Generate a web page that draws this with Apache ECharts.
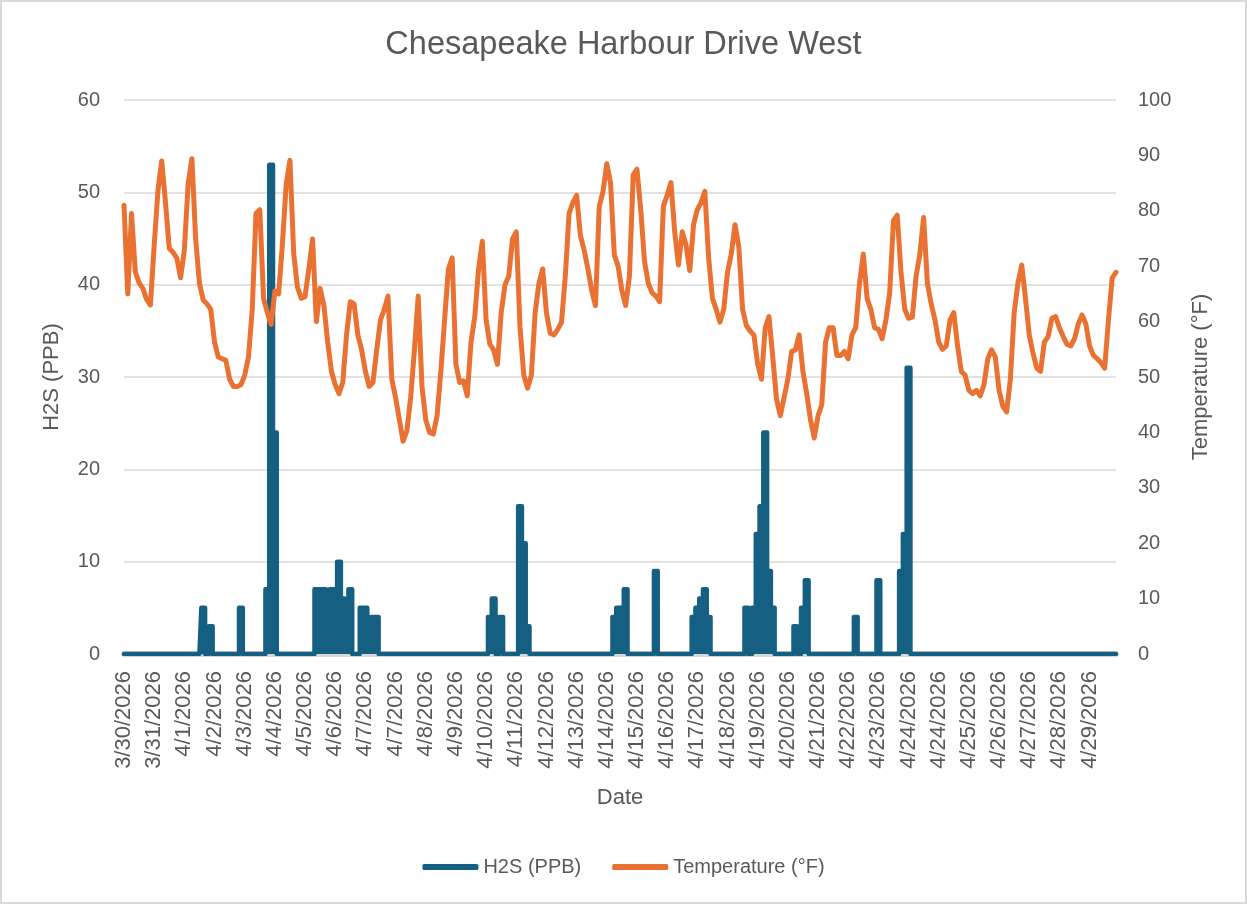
<!DOCTYPE html>
<html>
<head>
<meta charset="utf-8">
<title>Chesapeake Harbour Drive West</title>
<script src="https://cdn.jsdelivr.net/npm/echarts@6/dist/echarts.min.js"></script>
<style>
    html, body {
        margin: 0;
        padding: 0;
        background: #ffffff;
    }
    #line-chart {
        width: 1247px;
        height: 904px;
        box-sizing: border-box;
        border: 2px solid #d9d9d9;
    }
</style>
</head>
<body>
<div id="line-chart"></div>
<script>
// date shown under every 8th reading
const dates = [
    '3/30/2026', '3/31/2026', '4/1/2026', '4/2/2026', '4/3/2026', '4/4/2026',
    '4/5/2026', '4/6/2026', '4/7/2026', '4/7/2026', '4/8/2026', '4/9/2026',
    '4/10/2026', '4/11/2026', '4/12/2026', '4/13/2026', '4/14/2026', '4/15/2026',
    '4/16/2026', '4/17/2026', '4/18/2026', '4/19/2026', '4/20/2026', '4/21/2026',
    '4/22/2026', '4/23/2026', '4/24/2026', '4/24/2026', '4/25/2026', '4/26/2026',
    '4/27/2026', '4/28/2026', '4/29/2026'
];
const readingsPerDate = 8;

// H2S (PPB)
const h2s = [
    0, 0, 0, 0, 0, 0, 0, 0, 0, 0, 0, 0, 0, 0, 0, 0, 0, 0, 0, 0, 0, 5, 0, 3,
    0, 0, 0, 0, 0, 0, 0, 5, 0, 0, 0, 0, 0, 0, 7, 53, 24, 0, 0, 0, 0, 0, 0, 0,
    0, 0, 0, 7, 7, 7, 5, 7, 7, 10, 6, 4, 7, 0, 0, 5, 5, 3, 4, 4, 0, 0, 0, 0,
    0, 0, 0, 0, 0, 0, 0, 0, 0, 0, 0, 0, 0, 0, 0, 0, 0, 0, 0, 0, 0, 0, 0, 0,
    0, 4, 6, 0, 4, 0, 0, 0, 0, 16, 12, 3, 0, 0, 0, 0, 0, 0, 0, 0, 0, 0, 0, 0,
    0, 0, 0, 0, 0, 0, 0, 0, 0, 0, 4, 5, 5, 7, 0, 0, 0, 0, 0, 0, 0, 9, 0, 0,
    0, 0, 0, 0, 0, 0, 0, 4, 5, 6, 7, 4, 0, 0, 0, 0, 0, 0, 0, 0, 0, 5, 0, 5,
    13, 16, 24, 9, 5, 0, 0, 0, 0, 0, 3, 0, 5, 8, 0, 0, 0, 0, 0, 0, 0, 0, 0, 0,
    0, 0, 4, 0, 0, 0, 0, 0, 8, 0, 0, 0, 0, 0, 9, 13, 31, 0, 0, 0, 0, 0, 0, 0,
    0, 0, 0, 0, 0, 0, 0, 0, 0, 0, 0, 0, 0, 0, 0, 0, 0, 0, 0, 0, 0, 0, 0, 0,
    0, 0, 0, 0, 0, 0, 0, 0, 0, 0, 0, 0, 0, 0, 0, 0, 0, 0, 0, 0, 0, 0, 0, 0
];

// Temperature (°F)
const temperature = [
    81, 65, 79.5, 69, 67, 66, 64, 63, 73.7, 83.6, 89, 81.5, 73.2, 72.5, 71.5, 67.9, 72.9, 84.8, 89.4, 74.9, 66.9, 63.9, 63.2, 62.2,
    56.3, 53.6, 53.3, 53, 49.6, 48.3, 48.3, 48.6, 50.3, 53.6, 62.2, 79.5, 80.2, 64.2, 61.6, 59.5, 65.5, 65, 74, 84.8, 89.1, 72.2, 66.2, 64.2,
    64.5, 69.5, 74.9, 60, 66, 62.9, 56.3, 51, 48.6, 47, 49, 57.6, 63.6, 63.2, 57.6, 54.9, 51, 48.3, 49, 54.9, 60.3, 62.2, 64.6, 49.6,
    46.3, 42.3, 38.4, 40.3, 46.3, 54.9, 64.6, 48.3, 42.3, 40, 39.7, 43, 51, 60.3, 69.5, 71.5, 52.3, 49, 49.3, 46.6, 56.3, 60.9, 69.5, 74.5,
    60.3, 55.9, 54.9, 52.3, 61.6, 66.6, 68.2, 74.9, 76.2, 58.9, 50.3, 48, 50.3, 61.6, 66.9, 69.5, 61.6, 57.9, 57.6, 58.6, 59.9, 68.2, 79.5, 81.5,
    82.8, 75.5, 72.9, 69.5, 65.6, 62.9, 80.8, 83.5, 88.5, 85, 72, 70, 65.6, 62.9, 68.2, 86.5, 87.5, 80.2, 70.9, 66.9, 65.2, 64.6, 63.6, 80.8,
    82.8, 85.1, 76.2, 70.2, 76.2, 73.9, 69.2, 77.5, 80.2, 81.5, 83.5, 71.5, 64.2, 62.2, 59.9, 62.2, 68.9, 72.2, 77.5, 73.5, 62.2, 59.3, 58.3, 57.6,
    52.3, 49.6, 58.9, 60.9, 53.6, 46, 43, 46.3, 49.6, 54.6, 54.9, 57.6, 51, 47, 42.3, 39, 43, 45, 56.3, 58.9, 58.9, 53.9, 53.9, 54.6,
    53.3, 57.6, 58.9, 66.9, 72.2, 64.2, 62.2, 58.9, 58.6, 56.9, 60.3, 65.2, 78.2, 79.2, 68.9, 62.2, 60.6, 60.8, 68.2, 72.2, 78.8, 66.9, 63.2, 60.3,
    56.3, 55, 55.6, 60.3, 61.6, 55.6, 51, 50.3, 47.6, 47, 47.6, 46.6, 48.6, 53.3, 54.9, 53.6, 47.6, 44.7, 43.7, 49.6, 61.6, 66.9, 70.2, 64.2,
    57.6, 54.3, 51.6, 51, 56.3, 57.3, 60.6, 60.9, 58.9, 57.3, 55.9, 55.6, 56.9, 59.6, 61.2, 59.6, 55.6, 53.9, 53.3, 52.6, 51.6, 60.3, 67.9, 68.9
];

const h2sMax = 60;
const tempMax = 100;

const h2sColor = '#156082';
const tempColor = '#e97132';
const textColor = '#595959';
const fontFamily = '"Liberation Sans", Arial, sans-serif';

// each reading carries the date of the tick it falls under
const categories = temperature.map((v, i) => dates[Math.floor(i / readingsPerDate)]);

const chart = echarts.init(document.getElementById('line-chart'));

const option = {
    animation: false,
    textStyle: {
        fontFamily: fontFamily,
        color: textColor
    },
    title: {
        text: 'Chesapeake Harbour Drive West',
        left: 'center',
        top: 22,
        textStyle: {
            fontSize: 32.5,
            fontWeight: 'normal',
            color: textColor,
            fontFamily: fontFamily
        }
    },
    legend: {
        bottom: 20,
        left: 'center',
        icon: 'roundRect',
        itemWidth: 56,
        itemHeight: 6,
        itemGap: 31,
        textStyle: {
            fontSize: 20,
            color: textColor,
            fontFamily: fontFamily
        },
        data: ['H2S (PPB)', 'Temperature (°F)']
    },
    grid: {
        left: 122,
        right: 129,
        top: 98,
        bottom: 248
    },
    xAxis: {
        type: 'category',
        data: categories,
        boundaryGap: false,
        offset: 3,
        name: 'Date',
        nameLocation: 'middle',
        nameGap: 130,
        nameTextStyle: {
            fontSize: 22,
            color: textColor
        },
        axisLine: {
            lineStyle: {
                color: '#d9d9d9',
                width: 6
            }
        },
        axisTick: { show: false },
        axisLabel: {
            interval: readingsPerDate - 1,
            rotate: 90,
            margin: 14,
            fontSize: 22,
            color: textColor
        }
    },
    yAxis: [
        {
            type: 'value',
            min: 0,
            max: h2sMax,
            interval: 10,
            name: 'H2S (PPB)',
            nameLocation: 'middle',
            nameRotate: 90,
            nameGap: 61,
            nameTextStyle: {
                fontSize: 22,
                color: textColor
            },
            axisLine: { show: false },
            axisTick: { show: false },
            axisLabel: {
                margin: 24,
                fontSize: 20,
                color: textColor
            },
            splitLine: {
                lineStyle: {
                    color: '#d9d9d9',
                    width: 1.5
                }
            }
        },
        {
            type: 'value',
            min: 0,
            max: tempMax,
            interval: 10,
            position: 'right',
            name: 'Temperature (°F)',
            nameLocation: 'middle',
            nameRotate: 90,
            nameGap: 74,
            nameTextStyle: {
                fontSize: 22,
                color: textColor
            },
            axisLine: { show: false },
            axisTick: { show: false },
            axisLabel: {
                margin: 22,
                fontSize: 20,
                color: textColor
            },
            splitLine: { show: false }
        }
    ],
    series: [
        {
            name: 'H2S (PPB)',
            type: 'line',
            yAxisIndex: 0,
            data: h2s,
            step: 'middle',
            showSymbol: false,
            color: h2sColor,
            lineStyle: {
                color: h2sColor,
                width: 4.5,
                join: 'round',
                cap: 'round'
            },
            areaStyle: {
                color: h2sColor,
                opacity: 1
            }
        },
        {
            name: 'Temperature (°F)',
            type: 'line',
            yAxisIndex: 1,
            data: temperature,
            showSymbol: false,
            color: tempColor,
            lineStyle: {
                color: tempColor,
                width: 5,
                join: 'round',
                cap: 'round'
            }
        }
    ]
};

chart.setOption(option);
</script>
</body>
</html>
